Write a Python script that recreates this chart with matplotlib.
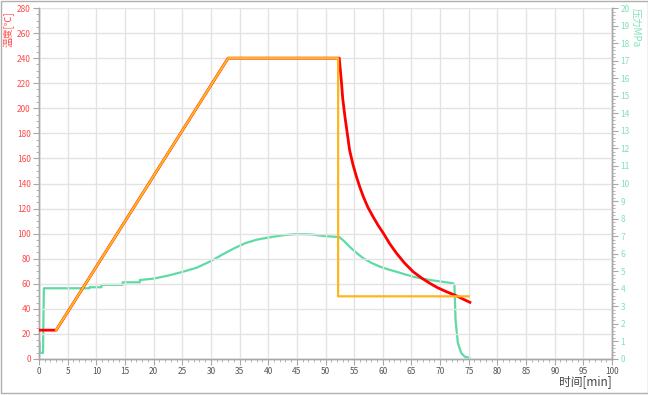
import matplotlib.pyplot as plt
from matplotlib.patches import Rectangle
from matplotlib.ticker import MultipleLocator

plt.rcParams['font.family'] = ['Noto Sans CJK SC', 'DejaVu Sans']

# 温度 (实测)
t_temp = [0, 3, 33, 52.4, 52.6, 52.8, 53.0, 53.4, 53.8, 54.2, 54.8, 55.4,
          56.0, 56.6, 57.4, 58.3, 59.2, 60.1, 61.2, 62.4, 63.8, 65.3, 66.8,
          68.2, 69.6, 71.1, 72.9, 74.0, 75.2]
temp = [23, 23, 240, 240, 230, 220, 208, 193, 180, 166.7, 155, 145.4,
        137, 129.5, 121, 113.5, 106.5, 100.3, 92, 84.3, 76.5, 69.6, 64.5,
        60.4, 56.8, 53.7, 50.3, 47.8, 45.2]

# 温度 (设定)
t_set = [3, 33, 52.2, 52.2, 75]
temp_set = [23, 240, 240, 50, 50]

# 压力
t_pres = [0, 0.05, 0.1, 0.7, 0.85, 5, 8.8, 8.8, 10.9, 10.9, 14.6, 14.6, 17.6,
          17.6, 20, 22.5, 25, 27.5, 30, 32, 34, 36, 38, 40, 42.5, 45, 47.5,
          50, 52.4, 53.3, 54.2, 55.4, 56.6, 58.0, 59.5, 61.0, 62.4, 63.8,
          65.3, 66.8, 68.2, 70, 72.3, 72.5, 72.7, 73.1, 73.7, 74.3, 75.1]
pres = [0.1, 1.0, 0.35, 0.35, 4.03, 4.03, 4.03, 4.09, 4.09, 4.22, 4.22, 4.37,
        4.37, 4.5, 4.58, 4.75, 4.96, 5.2, 5.58, 5.95, 6.3, 6.6, 6.8, 6.92,
        7.05, 7.12, 7.1, 7.0, 6.95, 6.7, 6.4, 6.05, 5.74, 5.48, 5.26, 5.1,
        4.97, 4.83, 4.69, 4.59, 4.5, 4.42, 4.31, 4.22, 2.22, 0.91, 0.34,
        0.13, 0.07]

red = '#ff0000'
orange = '#ffb51c'
green = '#5edba4'
axis_gray = '#a8a8a8'

fig = plt.figure(figsize=(6.48, 3.95), dpi=100)
ax = fig.add_axes([39 / 648, 36 / 395, 573 / 648, 351 / 395])
ax2 = ax.twinx()

ax2.plot(t_pres, pres, color=green, lw=1.6, zorder=2)
ax.plot(t_temp, temp, color=red, lw=2.0, zorder=3)
ax.plot(t_set, temp_set, color=orange, lw=1.6, zorder=4)
ax.set_zorder(ax2.get_zorder() + 1)
ax.patch.set_visible(False)

ax.set_xlim(0, 100)
ax.set_ylim(0, 280)
ax2.set_ylim(0, 20)

ax.xaxis.set_major_locator(MultipleLocator(5))
ax.xaxis.set_minor_locator(MultipleLocator(1))
ax.yaxis.set_major_locator(MultipleLocator(20))
ax.yaxis.set_minor_locator(MultipleLocator(5))
ax2.yaxis.set_major_locator(MultipleLocator(1))
ax2.yaxis.set_minor_locator(MultipleLocator(0.2))

ax.grid(True, which='major', color='#e3e3e3', lw=1.0)
ax.set_axisbelow(True)

for a in (ax, ax2):
    a.spines['top'].set_visible(False)
    for s in ('left', 'right', 'bottom'):
        a.spines[s].set_color(axis_gray)
        a.spines[s].set_linewidth(1.0)

ax.tick_params(axis='y', which='major', colors=axis_gray, labelcolor='#ff4a4a',
               labelsize=6, length=4, width=0.8, pad=2)
ax.tick_params(axis='y', which='minor', colors=axis_gray, length=2, width=0.6)
ax.tick_params(axis='x', which='major', colors=axis_gray, labelcolor='#555555',
               labelsize=6, length=4, width=0.8, pad=2)
ax.tick_params(axis='x', which='minor', colors=axis_gray, length=2, width=0.6)
ax2.tick_params(axis='y', which='major', colors=axis_gray, labelcolor='#7fe2b8',
                labelsize=6, length=4, width=0.8, pad=2)
ax2.tick_params(axis='y', which='minor', colors=axis_gray, length=2, width=0.6)

fig.text(9 / 648, 1 - 29 / 395, '温度[℃]', color='#ff4a4a', fontsize=7,
         rotation=90, ha='center', va='center')
fig.text(636 / 648, 1 - 28 / 395, '压力MPa', color='#7fe2b8', fontsize=7,
         rotation=-90, ha='center', va='center')
fig.text(612 / 648, 1 - 382 / 395, '时间[min]', color='#444444', fontsize=8.5,
         ha='right', va='center')

# 外框
fig.patches.append(Rectangle((0.5 / 648, 2 / 395), 647 / 648, 392.5 / 395,
                             transform=fig.transFigure, fill=False,
                             edgecolor='#b0b0b0', lw=1.0))

fig.savefig('out.png', dpi=100)
